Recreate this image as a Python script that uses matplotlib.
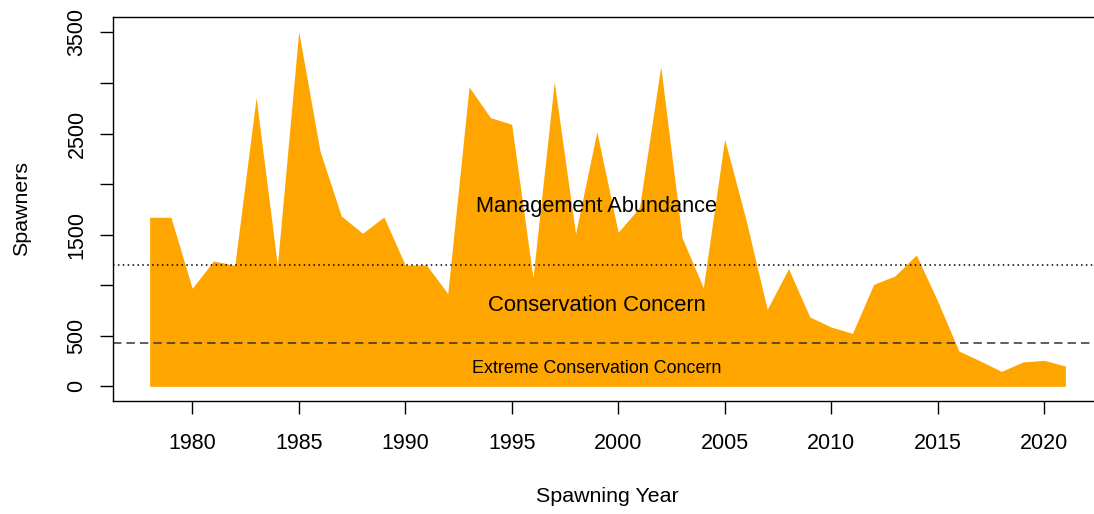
import matplotlib
matplotlib.use("Agg")
import matplotlib.pyplot as plt
import numpy as np

years = list(range(1978, 2022))
spawners = [1672, 1672, 970, 1240, 1197, 2856, 1197, 3509, 2328, 1685,
            1514, 1675, 1200, 1200, 917, 2962, 2658, 2592, 1075, 3011,
            1510, 2520, 1524, 1768, 3163, 1471, 976, 2444, 1650, 762,
            1164, 686, 587, 524, 1009, 1092, 1299, 844, 350, 251,
            148, 241, 257, 201]

management_threshold = 1200
extreme_threshold = 430

xticks = [1980, 1985, 1990, 1995, 2000, 2005, 2010, 2015, 2020]
yticks = [0, 500, 1000, 1500, 2000, 2500, 3000, 3500]
ytick_labels = ["0", "500", "", "1500", "", "2500", "", "3500"]

zone_labels = ["Management Abundance", "Conservation Concern", "Extreme Conservation Concern"]

plt.rcParams['font.family'] = ['Liberation Sans', 'DejaVu Sans']

fig = plt.figure(figsize=(10.94, 5.14), dpi=100)
W, H = 1094, 514
left, right, top, bottom = 113, 1102, 17.3, 400.5
ax = fig.add_axes([left / W, 1 - bottom / H, (right - left) / W, (bottom - top) / H])

ax.fill_between(years, spawners, 0, color="#FFA500", linewidth=0)

l1 = ax.axhline(management_threshold, color="black", linewidth=1.1)
l1.set_dashes((1, 2.2))
l2 = ax.axhline(extreme_threshold, color="#333333", linewidth=1.1)
l2.set_dashes((5.5, 3.3))

xmid = 1999
ax.text(xmid, 1720, zone_labels[0], ha="center", va="baseline", fontsize=15.7)
ax.text(xmid, 746, zone_labels[1], ha="center", va="baseline", fontsize=15.8)
ax.text(xmid, 135, zone_labels[2], ha="center", va="baseline", fontsize=12.9)

ax.set_xlim(1976.28, 2022.72)
ax.set_ylim(-140, 3650)

ax.set_xticks(xticks)
ax.set_xticklabels([str(x) for x in xticks])
ax.set_yticks(yticks)
ax.set_yticklabels(ytick_labels, rotation=90, va="center")

ax.tick_params(axis="both", direction="out", length=9.4, width=1, color="black",
               labelsize=15.5)
ax.tick_params(axis="x", pad=14)
ax.tick_params(axis="y", pad=9)

for s in ax.spines.values():
    s.set_linewidth(1)
    s.set_color("black")
ax.spines["right"].set_visible(False)

ax.set_xlabel("Spawning Year", fontsize=15.4, va="center", ha="center")
ax.xaxis.set_label_coords(0.5, (bottom - 497) / (bottom - top))
ax.set_ylabel("Spawners", fontsize=15.4, va="center", ha="center")
ax.yaxis.set_label_coords((22 - left) / (right - left), 0.5)

fig.savefig("out.png", dpi=100)
